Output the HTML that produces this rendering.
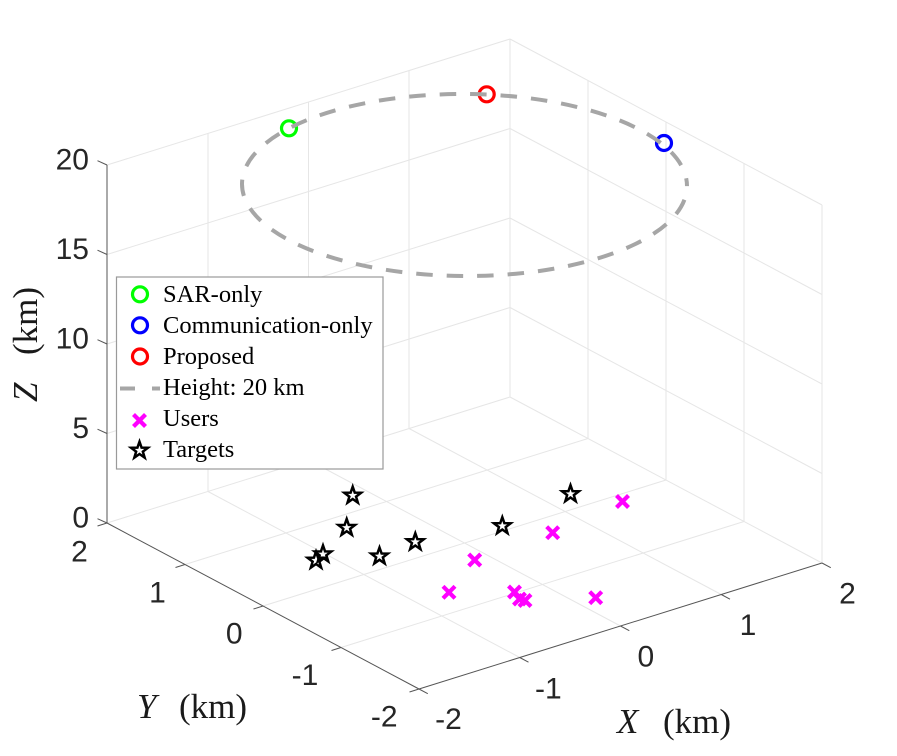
<!DOCTYPE html>
<html>
<head>
<meta charset="utf-8">
<style>
  html, body { margin: 0; padding: 0; background: #ffffff; }
  body { width: 897px; height: 756px; overflow: hidden; }
  svg { display: block; }
  .tick { font-family: "Liberation Sans", Arial, sans-serif; font-size: 30px; fill: #262626; }
  .lab { font-family: "Liberation Serif", "Times New Roman", serif; font-size: 35px; fill: #1a1a1a; }
  .leg { font-family: "Liberation Serif", "Times New Roman", serif; font-size: 24.5px; fill: #000000; }
</style>
</head>
<body>
<svg width="897" height="756" viewBox="0 0 897 756" xmlns="http://www.w3.org/2000/svg">
  <defs>
    <path id="star" d="M0,-8.8 L2.07,-2.85 L8.37,-2.72 L3.35,1.09 L5.17,7.12 L0,3.52 L-5.17,7.12 L-3.35,1.09 L-8.37,-2.72 L-2.07,-2.85 Z" fill="none" stroke="#000" stroke-width="2.5" stroke-linejoin="miter"/>
    <path id="cross" d="M-6,-6 L6,6 M-6,6 L6,-6" fill="none" stroke="#ff00ff" stroke-width="4.2"/>
  </defs>
  <rect x="0" y="0" width="897" height="756" fill="#ffffff"/>

  <!-- Grid lines -->
  <g stroke="#e6e6e6" stroke-width="1" fill="none">
    <path d="M208,491.5 L519.75,657.5"/>
    <path d="M308.5,460 L620.5,626"/>
    <path d="M409,428.5 L721.25,594.5"/>
    <path d="M510,397 L822,563"/>
    <path d="M341,647.5 L744,521.5"/>
    <path d="M263,606 L666,480"/>
    <path d="M185,564.5 L588,438.5"/>
    <path d="M107,523 L510,397"/>
    <path d="M208,491.5 V133.5"/>
    <path d="M308.5,460 V102"/>
    <path d="M409,428.5 V70.5"/>
    <path d="M510,397 V39"/>
    <path d="M107,433.5 L510,307.5"/>
    <path d="M107,344 L510,218"/>
    <path d="M107,254.5 L510,128.5"/>
    <path d="M107,165 L510,39"/>
    <path d="M588,438.5 V80.5"/>
    <path d="M666,480 V122"/>
    <path d="M744,521.5 V163.5"/>
    <path d="M822,563 V205"/>
    <path d="M510,307.5 L822,473.5"/>
    <path d="M510,218 L822,384"/>
    <path d="M510,128.5 L822,294.5"/>
    <path d="M510,39 L822,205"/>
  </g>

  <!-- Axis lines and ticks -->
  <g stroke="#555555" stroke-width="1" fill="none">
    <path d="M107,523 V165"/>
    <path d="M107,523 L419,689"/>
    <path d="M419,689 L822,563"/>
    <path d="M107,523 L97.5,518.7"/>
    <path d="M107,433.5 L97.5,429.2"/>
    <path d="M107,344 L97.5,339.7"/>
    <path d="M107,254.5 L97.5,250.2"/>
    <path d="M107,165 L97.5,160.7"/>
    <path d="M107,523 L97.5,526"/>
    <path d="M185,564.5 L175.5,567.5"/>
    <path d="M263,606 L253.5,609"/>
    <path d="M341,647.5 L331.5,650.5"/>
    <path d="M419,689 L409.5,692"/>
    <path d="M419,689 L427.8,693.7"/>
    <path d="M519.75,657.5 L528.5,662.2"/>
    <path d="M620.5,626 L629.3,630.7"/>
    <path d="M721.25,594.5 L730,599.2"/>
    <path d="M822,563 L830.8,567.7"/>
  </g>

  <!-- Tick labels -->
  <g class="tick">
    <text x="89" y="169.5" text-anchor="end">20</text>
    <text x="89" y="259" text-anchor="end">15</text>
    <text x="89" y="348.5" text-anchor="end">10</text>
    <text x="89" y="438" text-anchor="end">5</text>
    <text x="89" y="527.5" text-anchor="end">0</text>

    <text x="79.5" y="561.7" text-anchor="middle">2</text>
    <text x="157.5" y="602.7" text-anchor="middle">1</text>
    <text x="234.2" y="643.3" text-anchor="middle">0</text>
    <text x="305" y="685" text-anchor="middle">-1</text>
    <text x="384.2" y="726.7" text-anchor="middle">-2</text>

    <text x="448.5" y="729" text-anchor="middle">-2</text>
    <text x="548.3" y="698.3" text-anchor="middle">-1</text>
    <text x="645.8" y="666.7" text-anchor="middle">0</text>
    <text x="748" y="635" text-anchor="middle">1</text>
    <text x="847.5" y="603.3" text-anchor="middle">2</text>
  </g>

  <!-- Axis labels -->
  <g class="lab">
    <text x="137" y="718" font-style="italic">Y</text>
    <text x="179" y="718">(km)</text>
    <text x="617" y="733" font-style="italic">X</text>
    <text x="663" y="733">(km)</text>
    <g transform="translate(37,402) rotate(-90)">
      <text x="0" y="0" font-style="italic">Z</text>
      <text x="47" y="0">(km)</text>
    </g>
  </g>

  <!-- Data: UAV positions -->
  <g fill="none" stroke-width="3.2">
    <circle cx="289" cy="128.3" r="7.5" stroke="#00ff00"/>
    <circle cx="664" cy="143" r="7.5" stroke="#0000ff"/>
    <circle cx="486.7" cy="94.3" r="7.5" stroke="#ff0000"/>
  </g>

  <!-- Height circle -->
  <ellipse cx="464.5" cy="185" rx="222.5" ry="91" transform="rotate(0.29 464.5 185)"
           fill="none" stroke="#a6a6a6" stroke-width="4" stroke-dasharray="16.5 14" stroke-dashoffset="16.5"/>

  <!-- Users -->
  <g>
    <use href="#cross" x="622.5" y="501.5"/>
    <use href="#cross" x="552.7" y="532.7"/>
    <use href="#cross" x="474.7" y="560"/>
    <use href="#cross" x="449" y="592.3"/>
    <use href="#cross" x="514.5" y="592"/>
    <use href="#cross" x="519.5" y="599"/>
    <use href="#cross" x="525" y="600.5"/>
    <use href="#cross" x="595.7" y="597.7"/>
  </g>

  <!-- Targets -->
  <g>
    <use href="#star" x="352.7" y="495.5"/>
    <use href="#star" x="346.7" y="527.7"/>
    <use href="#star" x="323" y="554.2"/>
    <use href="#star" x="316" y="560.5"/>
    <use href="#star" x="379.5" y="556.3"/>
    <use href="#star" x="415.3" y="542"/>
    <use href="#star" x="502.3" y="526"/>
    <use href="#star" x="570.5" y="494"/>
  </g>

  <!-- Legend -->
  <rect x="116.5" y="277" width="266.5" height="192" fill="#ffffff" stroke="#9a9a9a" stroke-width="1.2"/>
  <g fill="none" stroke-width="3.2">
    <circle cx="140" cy="294.3" r="7.5" stroke="#00ff00"/>
    <circle cx="140" cy="325.3" r="7.5" stroke="#0000ff"/>
    <circle cx="140" cy="356.5" r="7.5" stroke="#ff0000"/>
  </g>
  <line x1="120" y1="388.5" x2="160" y2="388.5" stroke="#a6a6a6" stroke-width="4" stroke-dasharray="15 17"/>
  <use href="#cross" x="139.5" y="420.5"/>
  <use href="#star" x="139.5" y="450.5"/>
  <g class="leg">
    <text x="163" y="302">SAR-only</text>
    <text x="163" y="333">Communication-only</text>
    <text x="163" y="364">Proposed</text>
    <text x="163" y="395">Height: 20 km</text>
    <text x="163" y="426">Users</text>
    <text x="163" y="457">Targets</text>
  </g>
</svg>
</body>
</html>
